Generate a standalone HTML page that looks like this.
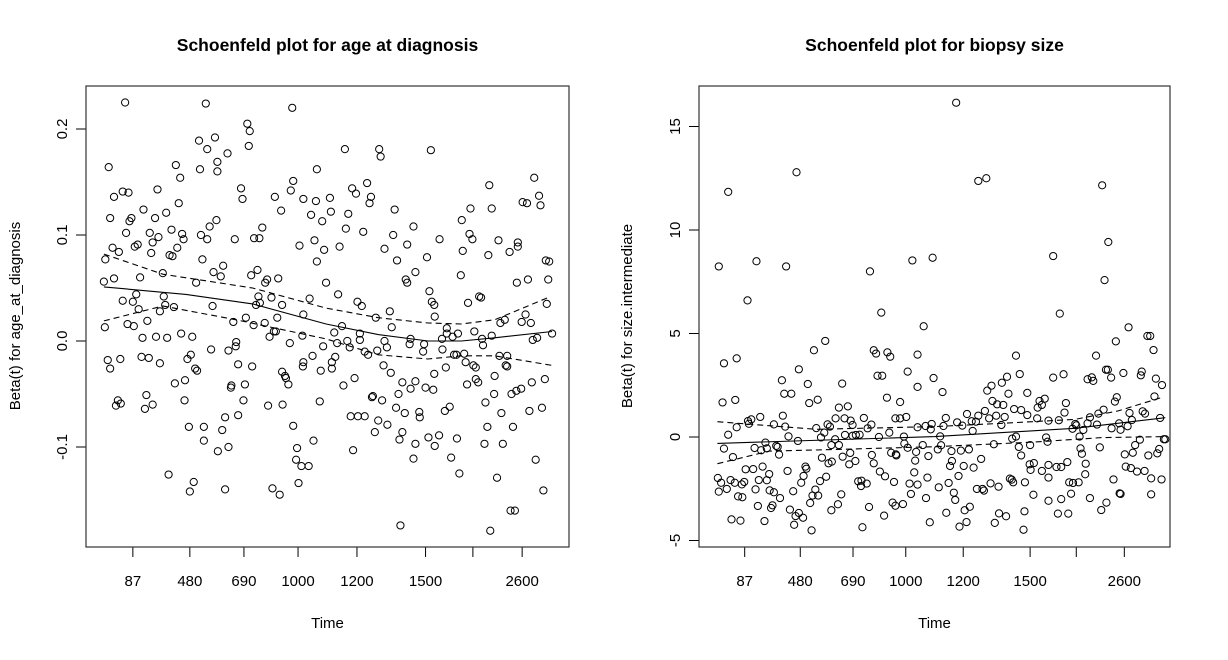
<!DOCTYPE html>
<html><head><meta charset="utf-8"><style>
body{margin:0;background:#fff}
svg text{font-family:"Liberation Sans",Arial,sans-serif;fill:#000}
</style></head><body>
<svg id="chart" width="1228" height="655" viewBox="0 0 1228 655" xmlns="http://www.w3.org/2000/svg">
<rect width="1228" height="655" fill="#fff"/>
</svg>
<script>
// Transformed time ticks (0..1000 scale across plot box)
const tickPos = [97,215,327,439,561,703,801,903];
const tickLabels = ["87","480","690","1000","1200","1500","","2600"];

// Left panel: age at diagnosis
const ageU = [81,248,427,334,339,234,267,251,293,337,272,272,236,47,186,195,478,148,76,88,58,321,324,391,429,424,450,476,404,466,489,192,119,166,143,50,94,90,270,256,83,132,150,177,199,202,138,101,107,55,68,135,189,173,179,238,251,308,348,359,365,442,473,493,478,40,241,284,264,279,342,355,375,371,398,159,112,37,58,228,497,76,97,104,161,164,182,109,153,127,86,99,39,262,305,331,347,357,352,360,384,406,396,370,389,393,380,422,448,450,463,491,117,145,168,197,220,259,295,311,310,469,450,449,486,45,50,71,115,130,153,210,217,226,230,315,344,406,414,419,412,184,205,301,300,329,326,204,125,138,122,66,62,72,377,407,484,288,315,213,244,282,244,273,295,429,471,437,435,446,461,440,171,223,215,288,386,401,
536,607,610,714,928,835,938,941,904,913,551,559,582,590,587,505,507,543,639,796,840,778,538,574,678,636,794,800,732,525,618,665,854,894,894,877,833,780,706,644,952,959,682,662,665,776,892,915,957,711,716,721,814,818,791,522,562,571,629,600,633,722,954,910,902,921,858,867,747,747,759,770,804,840,820,822,925,934,965,530,514,567,567,541,520,546,618,623,672,670,700,698,737,738,577,584,603,762,767,783,786,802,807,856,872,869,872,516,509,509,616,631,721,745,533,556,655,682,672,703,719,647,807,812,789,846,923,950,901,891,881,845,827,594,592,613,642,660,690,691,753,743,548,563,577,605,624,598,655,649,682,709,722,731,768,831,884,860,918,944,825,863,553,678,756,773,851,931,947,879,888,651,837];
const ageBeta = [0.225,0.224,0.220,0.205,0.198,0.189,0.192,0.181,0.177,0.184,0.169,0.160,0.162,0.164,0.166,0.154,0.162,0.143,0.141,0.140,0.136,0.144,0.134,0.136,0.151,0.142,0.134,0.132,0.123,0.119,0.113,0.130,0.124,0.121,0.116,0.116,0.116,0.113,0.114,0.108,0.102,0.102,0.098,0.105,0.101,0.096,0.093,0.089,0.091,0.088,0.084,0.083,0.088,0.081,0.080,0.100,0.096,0.096,0.097,0.097,0.107,0.090,0.095,0.086,0.075,0.077,0.077,0.071,0.065,0.061,0.062,0.067,0.058,0.055,0.059,0.064,0.060,0.056,0.059,0.055,0.055,0.038,0.037,0.044,0.042,0.034,0.032,0.030,0.028,0.019,0.016,0.014,0.013,0.033,0.018,0.022,0.015,0.042,0.034,0.036,0.041,0.034,0.022,0.017,0.009,0.009,0.004,-0.002,0.005,0.025,0.040,-0.005,0.003,0.004,0.003,0.007,0.004,-0.008,-0.009,-0.001,-0.005,-0.014,-0.020,-0.024,-0.028,-0.018,-0.026,-0.017,-0.015,-0.016,-0.021,-0.017,-0.013,-0.026,-0.028,-0.022,-0.024,-0.029,-0.035,-0.041,-0.033,-0.040,-0.037,-0.042,-0.044,-0.041,-0.056,-0.056,-0.051,-0.060,-0.064,-0.056,-0.061,-0.059,-0.061,-0.060,-0.057,-0.072,-0.070,-0.081,-0.081,-0.084,-0.094,-0.104,-0.100,-0.080,-0.094,-0.101,-0.112,-0.118,-0.118,-0.134,-0.126,-0.133,-0.142,-0.140,-0.139,-0.145,
0.181,0.181,0.174,0.180,0.154,0.147,0.137,0.128,0.131,0.130,0.144,0.139,0.149,0.136,0.130,0.135,0.122,0.120,0.124,0.125,0.125,0.114,0.106,0.103,0.108,0.100,0.101,0.096,0.096,0.089,0.087,0.091,0.095,0.093,0.089,0.084,0.081,0.085,0.079,0.076,0.076,0.075,0.065,0.058,0.055,0.062,0.055,0.058,0.058,0.047,0.037,0.034,0.042,0.041,0.036,0.044,0.037,0.033,0.028,0.022,0.013,0.023,0.035,0.025,0.018,0.017,0.017,0.020,0.012,0.007,0.004,0.007,0.009,0.005,0.002,-0.004,0.001,0.003,0.007,0.014,0.008,0.007,0.001,0.000,-0.002,-0.006,0.000,-0.006,0.002,-0.003,-0.003,-0.010,0.002,-0.008,-0.010,-0.013,-0.009,-0.013,-0.013,-0.012,-0.020,-0.023,-0.025,-0.014,-0.014,-0.023,-0.024,-0.015,-0.020,-0.026,-0.023,-0.030,-0.031,-0.025,-0.042,-0.035,-0.039,-0.038,-0.045,-0.044,-0.046,-0.050,-0.036,-0.039,-0.041,-0.033,-0.039,-0.036,-0.045,-0.047,-0.050,-0.050,-0.058,-0.052,-0.053,-0.056,-0.063,-0.068,-0.067,-0.072,-0.062,-0.066,-0.071,-0.071,-0.071,-0.075,-0.079,-0.086,-0.086,-0.093,-0.097,-0.091,-0.099,-0.089,-0.092,-0.081,-0.081,-0.068,-0.066,-0.063,-0.097,-0.097,-0.103,-0.111,-0.110,-0.125,-0.129,-0.112,-0.141,-0.160,-0.160,-0.174,-0.179];
const ageFitU = [37,207,345,497,605,708,777,846,965];
const ageFit = [0.051,0.044,0.035,0.016,0.006,0.000,0.000,0.003,0.009];
const ageUpU = [37,159,345,497,605,708,777,846,915,962];
const ageUp = [0.082,0.063,0.050,0.031,0.022,0.017,0.016,0.020,0.033,0.042];
const ageLoU = [37,159,311,497,605,708,777,846,965];
const ageLo = [0.019,0.033,0.020,0.002,-0.013,-0.017,-0.014,-0.014,-0.023];
const ageYTicks = [-0.1,0.0,0.1,0.2];
const ageYLabels = ["-0.1","0.0","0.1","0.2"];

// Right panel: biopsy size
const sizeU = [207,62,42,122,185,363,453,496,103,387,477,268,244,53,80,371,376,400,406,464,212,443,498,176,231,379,389,304,464,181,196,50,77,234,252,399,427,297,316,130,104,111,106,80,62,159,178,183,190,210,249,273,278,266,259,290,309,322,326,350,366,358,310,326,333,341,289,382,404,417,427,440,435,464,481,494,492,53,72,118,132,141,164,167,170,144,281,297,261,305,321,319,332,275,282,367,371,408,418,419,436,443,461,459,475,487,99,115,135,149,127,144,188,226,228,222,217,270,257,338,345,344,356,384,395,414,457,485,40,47,67,76,91,96,42,59,120,150,159,172,83,92,200,247,241,253,236,302,295,281,361,393,411,417,433,447,464,450,482,125,156,153,193,212,205,221,202,239,347,69,88,139,490,
546,593,610,856,869,752,861,766,912,952,958,965,885,673,843,864,868,901,940,938,875,825,834,837,774,752,681,654,643,621,612,970,983,517,657,697,734,723,728,719,623,633,646,669,684,697,779,776,887,883,967,859,848,830,914,942,947,524,519,548,559,569,579,588,593,607,616,631,642,649,718,742,764,799,801,793,816,825,845,876,892,895,910,919,979,581,512,514,507,536,556,573,626,665,673,679,684,703,737,740,808,810,813,851,936,926,921,904,954,973,977,987,990,537,533,562,583,599,551,702,711,704,728,742,759,769,782,742,821,820,906,917,930,946,880,960,982,530,509,541,544,590,602,605,619,636,660,664,667,692,710,786,794,806,790,830,742,769,893,895,960,525,564,575,568,553,637,652,628,691,689,762,784,865,854];
const sizeBeta = [12.79,11.84,8.24,8.49,8.24,8.00,8.53,8.66,6.60,6.01,5.35,4.64,4.19,3.56,3.80,4.19,4.03,4.09,3.88,3.98,3.27,3.16,2.85,2.74,2.56,2.96,2.96,2.58,2.42,2.09,2.09,1.67,1.79,1.64,1.80,1.90,1.69,1.42,1.48,0.97,0.77,0.85,0.64,0.47,0.11,0.61,1.03,0.50,0.03,-0.19,0.43,0.61,0.50,0.21,-0.02,0.90,0.90,0.79,0.58,0.92,0.60,0.42,0.10,0.06,0.10,0.11,-0.11,0.00,0.21,0.90,0.90,0.97,0.02,0.47,0.53,0.63,0.37,-0.56,-0.97,-0.53,-0.64,-0.27,-0.43,-0.48,-0.85,-0.55,-0.39,-0.39,-1.00,-0.95,-0.77,-1.32,-1.16,-1.27,-1.19,-0.87,-1.27,-0.76,-0.84,-0.89,-0.32,-0.52,-0.72,-1.14,-0.39,-0.92,-1.56,-1.55,-1.43,-1.79,-2.08,-2.09,-1.64,-1.43,-1.53,-1.88,-2.21,-1.92,-2.13,-2.14,-2.11,-2.37,-2.25,-1.67,-1.90,-2.17,-1.71,-1.96,-1.98,-2.21,-2.08,-2.21,-2.29,-2.17,-2.64,-2.51,-2.53,-2.58,-2.67,-2.95,-2.87,-2.91,-2.62,-2.54,-2.83,-2.83,-3.19,-2.77,-3.25,-3.54,-3.38,-3.80,-3.17,-3.32,-3.24,-2.25,-2.30,-2.75,-2.95,-3.33,-3.30,-3.43,-3.51,-3.67,-3.82,-3.90,-4.24,-4.51,-4.36,-3.98,-4.04,-4.06,-4.12,
16.15,12.37,12.50,12.16,9.42,8.74,7.58,5.96,5.30,4.88,4.88,4.20,4.62,3.93,3.93,3.25,3.25,3.09,3.16,2.98,2.87,2.79,2.88,2.71,3.03,2.87,3.04,2.91,2.62,2.48,2.24,2.82,2.51,2.17,2.09,2.13,1.85,1.74,1.55,1.42,1.74,1.58,1.55,1.35,1.30,1.06,1.64,1.18,1.92,1.71,1.96,1.32,1.13,0.95,1.16,1.24,1.13,0.92,0.53,0.71,0.55,1.11,0.76,0.74,1.03,1.26,0.90,1.03,0.58,0.97,0.90,0.79,0.81,0.63,0.56,0.40,0.34,0.66,0.60,0.42,0.66,0.35,0.52,0.82,0.92,0.29,0.03,-0.40,-0.60,-0.68,-0.66,-0.60,-0.35,-0.08,0.02,-0.48,-0.89,-0.39,-0.02,-0.23,0.02,-0.55,-0.81,-0.50,-0.13,-0.39,-0.76,-0.84,-0.89,-0.79,-0.58,-0.11,-0.11,-1.16,-1.40,-1.40,-1.48,-1.06,-1.88,-1.32,-1.26,-1.59,-1.64,-1.35,-1.45,-1.45,-1.21,-1.96,-1.29,-1.80,-1.43,-1.50,-1.67,-1.64,-2.05,-2.00,-2.05,-2.22,-2.43,-2.69,-3.04,-2.51,-2.51,-2.59,-2.24,-2.40,-2.01,-2.06,-2.19,-2.19,-2.79,-2.19,-2.22,-2.19,-2.74,-2.95,-3.08,-3.00,-2.72,-2.75,-2.77,-3.66,-3.54,-3.37,-4.11,-4.33,-3.69,-3.83,-4.15,-3.59,-4.48,-3.70,-3.70,-3.17,-3.53];
const sizeFitU = [39,501,798,990];
const sizeFit = [-0.31,0.02,0.42,0.93];
const sizeUpU = [39,248,501,643,798,890,986];
const sizeUp = [0.74,0.37,0.50,0.66,0.85,1.26,1.93];
const sizeLoU = [39,149,248,501,713,855,990];
const sizeLo = [-1.29,-0.68,-0.63,-0.47,-0.24,-0.03,0.02];
const sizeYTicks = [-5,0,5,10,15];
const sizeYLabels = ["-5","0","5","10","15"];

const NS = "http://www.w3.org/2000/svg";
const svg = document.getElementById('chart');
function mk(tag, attrs, parent){const e=document.createElementNS(NS,tag);for(const k in attrs)e.setAttribute(k,attrs[k]);(parent||svg).appendChild(e);return e;}

function panel(cfg){
  const g = mk('g',{});
  
  
  const L=cfg.left,R=cfg.right,T=86,B=547;
  const xs = u => L + u/1000*(R-L);
  const ys = v => cfg.y0 - v*cfg.ppu;
  const t = mk('text',{x:(L+R)/2,y:51,'text-anchor':'middle','font-size':'17.5','font-weight':'bold'},g);
  t.textContent = cfg.title;
  
  
  const yl = mk('text',{x:0,y:0,'text-anchor':'middle','font-size':'15',transform:`translate(${cfg.ylabX},316) rotate(-90)`},g);
  yl.textContent = cfg.ylab;
  
  
  const xl = mk('text',{x:(L+R)/2,y:628,'text-anchor':'middle','font-size':'15'},g);
  xl.textContent = 'Time';
  
  
  // x ticks
  tickPos.forEach((p,i)=>{
    const x=xs(p);
    const tk=mk('line',{x1:x,x2:x,y1:B,y2:B+10,stroke:'#000','stroke-width':1},g);
    
    
    if(tickLabels[i]){
      const tl=mk('text',{x:x,y:586,'text-anchor':'middle','font-size':'15'},g);
      tl.textContent=tickLabels[i];
      
      
    }
  });
  // y ticks
  cfg.yt.forEach((v,i)=>{
    const y=ys(v);
    const tk=mk('line',{x1:L-10,x2:L,y1:y,y2:y,stroke:'#000','stroke-width':1},g);
    
    
    const tl=mk('text',{x:0,y:0,'text-anchor':'middle','font-size':'15',transform:`translate(${L-19},${y}) rotate(-90)`},g);
    tl.textContent=cfg.ytl[i];
    
    
  });
  // points
  for(let i=0;i<cfg.u.length;i++){
    const c=mk('circle',{cx:xs(cfg.u[i]),cy:ys(cfg.b[i]),r:3.6,fill:'none',stroke:'#000','stroke-width':1},g);
    
    
  }
  function line(us,vs,dash,name){
    const d=us.map((u,i)=>(i?'L':'M')+xs(u).toFixed(1)+','+ys(vs[i]).toFixed(1)).join(' ');
    const p=mk('path',{d:d,fill:'none',stroke:'#000','stroke-width':1.1,'stroke-dasharray':dash||'none'},g);
    
    
  }
  line(cfg.fu,cfg.f,null,'smooth-fit-line');
  line(cfg.uu,cfg.up,'6 4','upper-confidence-band');
  line(cfg.lu,cfg.lo,'6 4','lower-confidence-band');
  const box=mk('rect',{x:L,y:T,width:R-L,height:B-T,fill:'none',stroke:'#333','stroke-width':1.2},g);
  
  
}

panel({name:'age-at-diagnosis-panel',left:86,right:569,y0:341,ppu:1060,title:'Schoenfeld plot for age at diagnosis',ylab:'Beta(t) for age_at_diagnosis',ylabX:20,
  u:ageU,b:ageBeta,fu:ageFitU,f:ageFit,uu:ageUpU,up:ageUp,lu:ageLoU,lo:ageLo,yt:ageYTicks,ytl:ageYLabels});
panel({name:'biopsy-size-panel',left:699,right:1170,y0:437,ppu:20.7,title:'Schoenfeld plot for biopsy size',ylab:'Beta(t) for size.intermediate',ylabX:632,
  u:sizeU,b:sizeBeta,fu:sizeFitU,f:sizeFit,uu:sizeUpU,up:sizeUp,lu:sizeLoU,lo:sizeLo,yt:sizeYTicks,ytl:sizeYLabels});
</script>
</body></html>
